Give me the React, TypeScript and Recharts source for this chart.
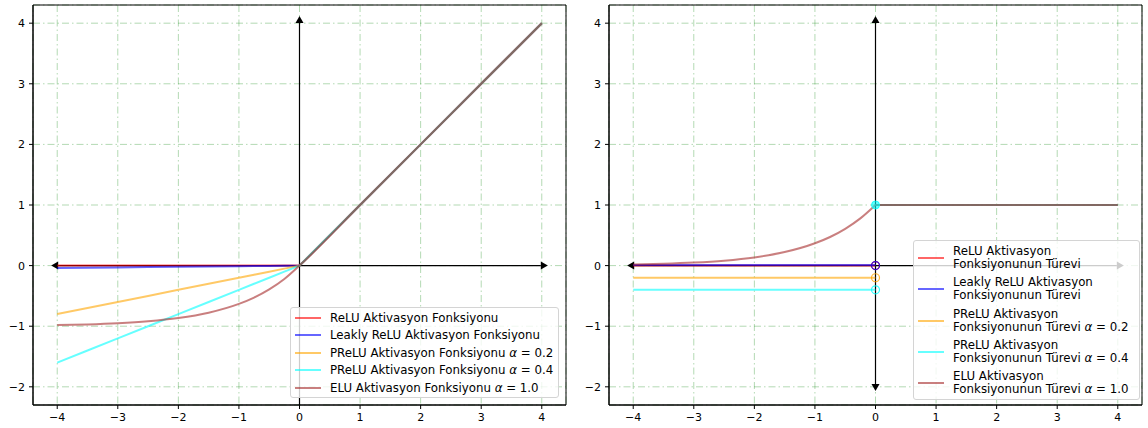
import React from "react";
import {
  LineChart,
  Line,
  XAxis,
  YAxis,
  CartesianGrid,
  ReferenceLine,
  ReferenceDot,
  ReferenceArea,
} from "recharts";

// activation functions, left panel
const X_ACT = [-4, -3.5, -3, -2.5, -2, -1.5, -1, -0.75, -0.5, -0.25, 0, 1, 2, 3, 4];
const RELU = [0, 0, 0, 0, 0, 0, 0, 0, 0, 0, 0, 1, 2, 3, 4];
const LEAKY = [-0.04, -0.035, -0.03, -0.025, -0.02, -0.015, -0.01, -0.0075, -0.005, -0.0025, 0, 1, 2, 3, 4];
const PRELU_02 = [-0.8, -0.7, -0.6, -0.5, -0.4, -0.3, -0.2, -0.15, -0.1, -0.05, 0, 1, 2, 3, 4];
const PRELU_04 = [-1.6, -1.4, -1.2, -1.0, -0.8, -0.6, -0.4, -0.3, -0.2, -0.1, 0, 1, 2, 3, 4];
const ELU = [-0.982, -0.97, -0.95, -0.918, -0.865, -0.777, -0.632, -0.528, -0.393, -0.221, 0, 1, 2, 3, 4];

// derivatives, right panel (negative side, then positive side)
const X_NEG = [-4, -3.5, -3, -2.5, -2, -1.5, -1, -0.75, -0.5, -0.25, 0];
const RELU_D = [0, 0, 0, 0, 0, 0, 0, 0, 0, 0, 0];
const LEAKY_D = [0.01, 0.01, 0.01, 0.01, 0.01, 0.01, 0.01, 0.01, 0.01, 0.01, 0.01];
const PRELU_02_D = [-0.2, -0.2, -0.2, -0.2, -0.2, -0.2, -0.2, -0.2, -0.2, -0.2, -0.2];
const PRELU_04_D = [-0.4, -0.4, -0.4, -0.4, -0.4, -0.4, -0.4, -0.4, -0.4, -0.4, -0.4];
const ELU_D = [0.018, 0.03, 0.05, 0.082, 0.135, 0.223, 0.368, 0.472, 0.607, 0.779, 1.0];
const X_POS = [0, 4];
const POS_D = [1, 1];

// hollow markers at x = 0
const MARK_Y = [0, 0, -0.2, -0.4];

const X_TICKS = [-4, -3, -2, -1, 0, 1, 2, 3, 4];
const Y_TICKS = [-2, -1, 0, 1, 2, 3, 4];

const COLORS = ["red", "blue", "orange", "cyan", "brown"];
const CURVES = ["linear", "linear", "linear", "linear", "monotone"] as const;

const LEFT_LABELS: React.ReactNode[] = [
  "ReLU Aktivasyon Fonksiyonu",
  "Leakly ReLU Aktivasyon Fonksiyonu",
  <>PReLU Aktivasyon Fonksiyonu <i>α</i> = 0.2</>,
  <>PReLU Aktivasyon Fonksiyonu <i>α</i> = 0.4</>,
  <>ELU Aktivasyon Fonksiyonu <i>α</i> = 1.0</>,
];

const RIGHT_LABELS: [string, React.ReactNode][] = [
  ["ReLU Aktivasyon", "Fonksiyonunun Türevi"],
  ["Leakly ReLU Aktivasyon", "Fonksiyonunun Türevi"],
  ["PReLU Aktivasyon", <>Fonksiyonunun Türevi <i>α</i> = 0.2</>],
  ["PReLU Aktivasyon", <>Fonksiyonunun Türevi <i>α</i> = 0.4</>],
  ["ELU Aktivasyon", <>Fonksiyonunun Türevi <i>α</i> = 1.0</>],
];

const FONT = "'DejaVu Sans', sans-serif";
const X_DOMAIN = [-4.4, 4.4];
const Y_DOMAIN = [-2.3, 4.3];

const fmtTick = (v: number) => (v < 0 ? `\u2212${-v}` : `${v}`);

const pts = (xs: number[], ys: number[]) => xs.map((x, i) => ({ x, y: ys[i] }));
const split = (ys: number[]) => [...pts(X_NEG, ys), { x: 0, y: null }, ...pts(X_POS, POS_D)];

const leftSeries = [RELU, LEAKY, PRELU_02, PRELU_04, ELU].map((ys) => pts(X_ACT, ys));
const rightSeries = [RELU_D, LEAKY_D, PRELU_02_D, PRELU_04_D, ELU_D].map(split);

function arrow(startHead: boolean, endHead: boolean) {
  return (props: any) => {
    const { x1, y1, x2, y2 } = props;
    const len = Math.hypot(x2 - x1, y2 - y1) || 1;
    const ux = (x2 - x1) / len;
    const uy = (y2 - y1) / len;
    const hl = 7;
    const hw = 4;
    const head = (tx: number, ty: number, dx: number, dy: number) => {
      const bx = tx - dx * hl;
      const by = ty - dy * hl;
      return `${tx},${ty} ${bx - dy * hw},${by + dx * hw} ${bx + dy * hw},${by - dx * hw}`;
    };
    const sx = startHead ? x1 + ux * hl : x1;
    const sy = startHead ? y1 + uy * hl : y1;
    const ex = endHead ? x2 - ux * hl : x2;
    const ey = endHead ? y2 - uy * hl : y2;
    return (
      <g>
        <line x1={sx} y1={sy} x2={ex} y2={ey} stroke="#000" strokeWidth={1.2} />
        {startHead && <polygon points={head(x1, y1, -ux, -uy)} fill="#000" />}
        {endHead && <polygon points={head(x2, y2, ux, uy)} fill="#000" />}
      </g>
    );
  };
}

function Axes() {
  return [
    <CartesianGrid
      key="grid"
      stroke="#008000"
      strokeOpacity={0.3}
      strokeDasharray="7 3 1.5 3"
    />,
    <XAxis
      key="x"
      dataKey="x"
      type="number"
      domain={X_DOMAIN}
      ticks={X_TICKS}
      allowDataOverflow
      height={23}
      tickSize={4}
      tickMargin={4}
      tickFormatter={fmtTick}
      tick={{ fontSize: 11, fill: "#000", fontFamily: FONT }}
      stroke="#000"
    />,
    <YAxis
      key="y"
      type="number"
      domain={Y_DOMAIN}
      ticks={Y_TICKS}
      allowDataOverflow
      width={33}
      tickSize={4}
      tickMargin={4}
      tickFormatter={fmtTick}
      tick={{ fontSize: 11, fill: "#000", fontFamily: FONT }}
      stroke="#000"
    />,
    <ReferenceArea
      key="frame"
      x1={X_DOMAIN[0]}
      x2={X_DOMAIN[1]}
      y1={Y_DOMAIN[0]}
      y2={Y_DOMAIN[1]}
      fill="none"
      stroke="#000"
      strokeOpacity={1}
      strokeWidth={1}
    />,
  ];
}

function LeftLegend() {
  return (
    <div
      style={{
        position: "absolute",
        left: 290,
        top: 307,
        width: 269,
        height: 91,
        boxSizing: "border-box",
        border: "1px solid #d4d4d4",
        borderRadius: 3,
        background: "rgba(255,255,255,0.8)",
        paddingTop: 1,
        fontFamily: FONT,
        fontSize: 11.8,
        color: "#000",
      }}
    >
      {LEFT_LABELS.map((label, i) => (
        <div key={i} style={{ height: 17.5, display: "flex", alignItems: "center" }}>
          <div
            style={{
              marginLeft: 4,
              width: 26,
              height: 2,
              background: COLORS[i],
              opacity: 0.6,
            }}
          />
          <span style={{ marginLeft: 9, whiteSpace: "nowrap" }}>{label}</span>
        </div>
      ))}
    </div>
  );
}

function RightLegend() {
  return (
    <div
      style={{
        position: "absolute",
        left: 913,
        top: 240,
        width: 227,
        height: 160,
        boxSizing: "border-box",
        border: "1px solid #d4d4d4",
        borderRadius: 3,
        background: "rgba(255,255,255,0.8)",
        paddingTop: 1.5,
        fontFamily: FONT,
        fontSize: 11.8,
        color: "#000",
      }}
    >
      {RIGHT_LABELS.map(([a, b], i) => (
        <div key={i} style={{ height: 31.3, display: "flex", alignItems: "center" }}>
          <div
            style={{
              marginLeft: 4,
              width: 26,
              height: 2,
              background: COLORS[i],
              opacity: 0.6,
              flexShrink: 0,
            }}
          />
          <div style={{ marginLeft: 9, lineHeight: "13px", whiteSpace: "nowrap" }}>
            <div>{a}</div>
            <div>{b}</div>
          </div>
        </div>
      ))}
    </div>
  );
}

export default function App() {
  return (
    <div
      style={{
        position: "absolute",
        left: 0,
        top: 0,
        width: 1148,
        height: 428,
        background: "#fff",
        fontFamily: FONT,
      }}
    >
      <div style={{ position: "absolute", left: 0, top: 0 }}>
        <LineChart width={570} height={428} margin={{ top: 5, right: 4, bottom: 0, left: 0 }}>
          {Axes()}
          <ReferenceLine
            segment={[{ x: -4.1, y: 0 }, { x: 4.1, y: 0 }]}
            shape={arrow(true, true)}
          />
          <ReferenceLine
            segment={[{ x: 0, y: -2.3 }, { x: 0, y: 4.12 }]}
            shape={arrow(false, true)}
          />
          {leftSeries.map((d, i) => (
            <Line
              key={i}
              data={d}
              dataKey="y"
              type={CURVES[i]}
              stroke={COLORS[i]}
              strokeOpacity={0.6}
              strokeWidth={2}
              dot={false}
              isAnimationActive={false}
            />
          ))}
        </LineChart>
      </div>
      <div style={{ position: "absolute", left: 576, top: 0 }}>
        <LineChart width={572} height={428} margin={{ top: 5, right: 6, bottom: 0, left: 0 }}>
          {Axes()}
          <ReferenceLine
            segment={[{ x: -4.1, y: 0 }, { x: 4.1, y: 0 }]}
            shape={arrow(true, true)}
          />
          <ReferenceLine
            segment={[{ x: 0, y: -2.07 }, { x: 0, y: 4.12 }]}
            shape={arrow(true, true)}
          />
          {rightSeries.map((d, i) => (
            <Line
              key={i}
              data={d}
              dataKey="y"
              type={CURVES[i]}
              stroke={COLORS[i]}
              strokeOpacity={0.6}
              strokeWidth={2}
              dot={false}
              connectNulls={false}
              isAnimationActive={false}
            />
          ))}
          {MARK_Y.map((y, i) => (
            <ReferenceDot
              key={i}
              x={0}
              y={y}
              r={4}
              fill="none"
              stroke={COLORS[i]}
              strokeOpacity={0.8}
              strokeWidth={1.2}
            />
          ))}
          <ReferenceDot x={0} y={1} r={4} fill="cyan" fillOpacity={0.6} stroke="cyan" strokeOpacity={0.8} />
        </LineChart>
      </div>
      <LeftLegend />
      <RightLegend />
    </div>
  );
}
